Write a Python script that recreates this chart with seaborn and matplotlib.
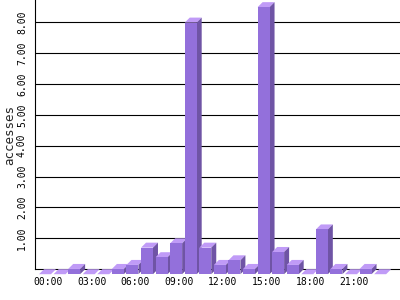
import matplotlib
matplotlib.use("Agg")
import matplotlib.pyplot as plt
import seaborn as sns
import pandas as pd
from matplotlib.patches import Polygon
from matplotlib.transforms import ScaledTranslation

# ---- data ----
hours = [f"{h:02d}:00" for h in range(24)]
accesses = [0, 0, 0.17, 0, 0, 0.17, 0.30, 0.86, 0.55, 1.00, 8.15, 0.86,
            0.30, 0.45, 0.17, 8.65, 0.72, 0.30, 0, 1.45, 0.17, 0, 0.17, 0]
tick_labels = hours[::3]
y_ticks = [1, 2, 3, 4, 5, 6, 7, 8]

FRONT = "#9370db"
SIDE = "#6f54a5"
TOP = "#c09bf7"

sns.set_style("white")
plt.rcParams["font.family"] = ["DejaVu Sans Mono"]

fig = plt.figure(figsize=(4, 3), dpi=100)
ax = fig.add_axes([35 / 400, 30.8 / 300, 365 / 400, 269.2 / 300])

df = pd.DataFrame({"hour": hours, "accesses": accesses})
sns.barplot(data=df, x="hour", y="accesses", color=FRONT, saturation=1,
            width=0.82, ax=ax)

ax.set_xlim(-1.03, 24.02)
ax.set_ylim(0, 8.72)

p0 = ax.transData.transform((0, 0))
p1 = ax.transData.transform((1, 1))
dx = 5 / (p1[0] - p0[0])
dy = 5 / (p1[1] - p0[1])

for p in list(ax.patches):
    x0 = p.get_x()
    w = p.get_width()
    h = p.get_height()
    p.set_x(x0 - dx)
    p.set_y(-dy)
    p.set_clip_on(False)
    p.set_linewidth(0)
    p.set_edgecolor("none")
    p.set_zorder(4)
    top = Polygon([(x0 - dx, h - dy), (x0 + w - dx, h - dy), (x0 + w, h), (x0, h)],
                  closed=True, facecolor=TOP, edgecolor="none", zorder=3, clip_on=False)
    side = Polygon([(x0 + w - dx, -dy), (x0 + w, 0), (x0 + w, h), (x0 + w - dx, h - dy)],
                   closed=True, facecolor=SIDE, edgecolor="none", zorder=3, clip_on=False)
    ax.add_patch(top)
    ax.add_patch(side)

ax.set_yticks(y_ticks)
ax.set_yticklabels([f"{v:.2f}" for v in y_ticks], rotation=90, va="center", fontsize=7)
ax.set_xticks(list(range(0, 24, 3)))
ax.set_xticklabels(tick_labels, fontsize=7)
ax.tick_params(axis="both", length=0, pad=5.8, colors="black")
for lab in ax.get_xticklabels():
    lab.set_transform(lab.get_transform() + ScaledTranslation(-2 / 100, 0, fig.dpi_scale_trans))

ax.yaxis.grid(True, color="black", linewidth=0.8)
ax.xaxis.grid(False)
ax.set_axisbelow(True)

for s in ["top", "right"]:
    ax.spines[s].set_visible(False)
for s in ["left", "bottom"]:
    ax.spines[s].set_color("black")
    ax.spines[s].set_linewidth(0.8)
    ax.spines[s].set_zorder(1)

ax.set_xlabel("")
ax.set_ylabel("accesses", fontsize=9)
ax.yaxis.set_label_coords(-25 / 365, 0.5)
ax.yaxis.label.set_verticalalignment("center")

fig.savefig("out.png", dpi=100, facecolor="white")
